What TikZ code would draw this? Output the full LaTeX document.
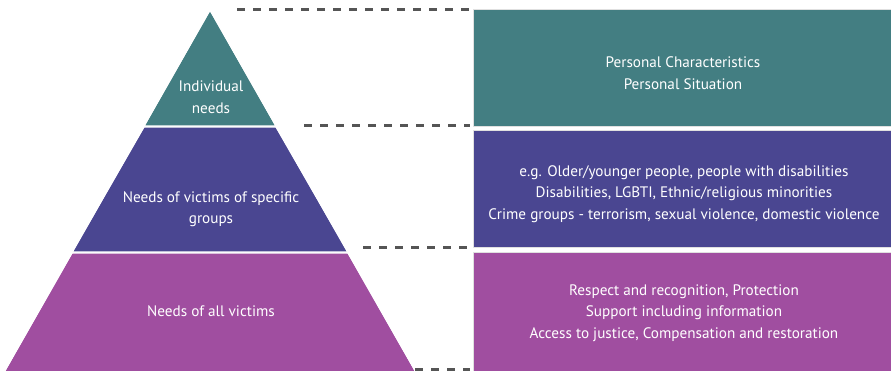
\documentclass[tikz,border=0pt]{standalone}
\usepackage{fontspec}
\setmainfont{PT Sans}
\usetikzlibrary{positioning}
\definecolor{tealtier}{RGB}{67,126,130}
\definecolor{indigotier}{RGB}{74,70,145}
\definecolor{magentatier}{RGB}{160,78,160}
\definecolor{dashgrey}{RGB}{85,85,85}
\tikzset{
	tier/.style={draw=white, line width=1.2pt},
	tierlabel/.style={text=white, align=center},
	needbox/.style={draw=black!12, line width=.8pt, text=white, align=center, minimum width=440pt, anchor=north west, inner sep=0pt},
	guide/.style={draw=dashgrey, line width=3pt, dash pattern=on 8pt off 8pt}
}
\begin{document}
\begin{tikzpicture}[x=1pt, y=-1pt, line join=round, font=\fontsize{15.2}{21.5}\selectfont]
	\def\bx{473} % left side of the boxes
	\useasboundingbox (0,0) rectangle (891,370);
	% the pyramid
	\fill[tier, fill=tealtier] (210,10)--(276,126)--(144,126)--cycle;
	\fill[tier, fill=indigotier] (144,127)--(276,127)--(348,252)--(72,252)--cycle;
	\fill[tier, fill=magentatier] (72,253)--(348,253)--(417,374)--(3,374)--cycle;
	\draw[white, line width=1.2pt] (3,374)--(210,10)--(417,374);
	\node[tierlabel] (individual) at (211,97) {Individual\\needs};
	\node[tierlabel] (groups) at (211,209) {Needs of victims of specific\\groups};
	\node[tierlabel] (allvictims) at (211,311) {Needs of all victims};
	% the boxes
	\node[needbox, fill=tealtier, minimum height=117pt] (personal) at (\bx,9) {};
	\node[needbox, fill=indigotier, minimum height=117pt] (specific) at (\bx,130) {};
	\node[needbox, fill=magentatier, minimum height=122pt] (general) at (\bx,252) {};
	\node[tierlabel] (personaltext) at (683,73) {Personal Characteristics\\Personal Situation};
	\node[tierlabel] (specifictext) at (684,194) {e.g. Older/younger people, people with disabilities\\Disabilities, LGBTI, Ethnic/religious minorities\\Crime groups - terrorism, sexual violence, domestic violence};
	\node[tierlabel] (generaltext) at (684,313) {Respect and recognition, Protection\\Support including information\\Access to justice, Compensation and restoration};
	% dashed guides
	\coordinate (g1) at (237,9);
	\coordinate (g2) at (304,125);
	\coordinate (g3) at (363,247);
	\coordinate (g4) at (415,369);
	\draw[guide] (g1) -- ([xshift=-3pt]g1 -| personal.west);
	\draw[guide] (g2) -- ([xshift=-3pt]g2 -| personal.west);
	\draw[guide] (g3) -- ([xshift=-3pt]g3 -| specific.west);
	\draw[guide] (g4) -- ([xshift=-3pt]g4 -| general.west);
\end{tikzpicture}
\end{document}
